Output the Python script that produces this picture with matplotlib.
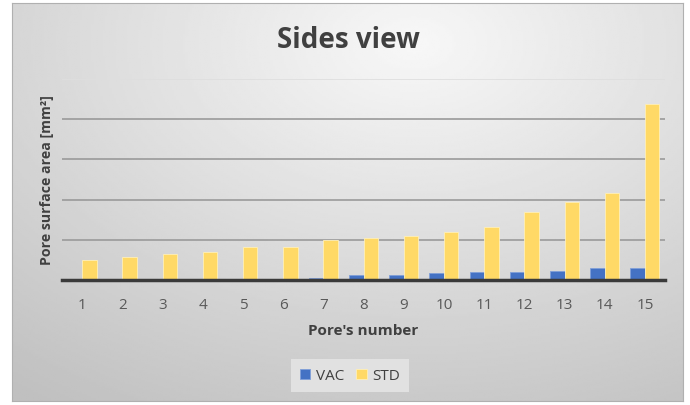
import numpy as np
import matplotlib
matplotlib.use("Agg")
import matplotlib.pyplot as plt

pores = [str(i) for i in range(1, 16)]
vac = [0.01, 0.01, 0.01, 0.01, 0.01, 0.03, 0.04, 0.12, 0.12, 0.17, 0.19, 0.21, 0.23, 0.29, 0.31]
std = [0.49, 0.57, 0.64, 0.69, 0.82, 0.82, 0.99, 1.04, 1.09, 1.19, 1.31, 1.68, 1.95, 2.16, 4.38]
grid_levels = [1, 2, 3, 4, 5]

plt.rcParams["font.family"] = ["Open Sans", "DejaVu Sans"]

fig = plt.figure(figsize=(6.9, 4.06), dpi=100)
fig.patch.set_facecolor("white")

# gradient background of the chart area
bg = fig.add_axes([12 / 690, 4 / 406, 671 / 690, 398 / 406])
yy, xx = np.mgrid[0:1:200j, 0:1:300j]
r = np.sqrt(((xx - 0.6) / 1.0) ** 2 + ((yy - 0.1) / 1.1) ** 2)
shade = 0.97 - 0.22 * np.clip(r, 0, 1)
bg.imshow(shade, cmap="gray", vmin=0, vmax=1, aspect="auto", extent=[0, 1, 1, 0])
bg.set_xticks([])
bg.set_yticks([])
for s in bg.spines.values():
    s.set_color("#b0b0b0")
    s.set_linewidth(0.8)

ax = fig.add_axes([62 / 690, 125 / 406, 603 / 690, 201 / 406])
ax.patch.set_alpha(0)
x = np.arange(len(pores))
w = 0.36
ax.bar(x - w / 2, vac, w, color="#4472C4", edgecolor="#7f9fd8", linewidth=0.6, label="VAC", zorder=3)
ax.bar(x + w / 2, std, w, color="#FFD966", edgecolor="#fff0b8", linewidth=0.6, label="STD", zorder=3)

ax.set_xlim(-0.5, 14.5)
ax.set_ylim(0, 5)
ax.set_yticks(grid_levels)
ax.set_yticklabels([])
ax.tick_params(axis="y", length=0)
for g in grid_levels:
    c = "#dedede" if g == grid_levels[-1] else "#9a9a9a"
    ax.axhline(g, color=c, linewidth=1.2, zorder=0)
ax.set_xticks(x)
ax.set_xticklabels(pores, fontsize=11, color="#595959")
ax.tick_params(axis="x", length=0, pad=12)
for k in ["top", "right", "left"]:
    ax.spines[k].set_visible(False)
ax.spines["bottom"].set_color("#3a3a3a")
ax.spines["bottom"].set_linewidth(2.5)
ax.spines["bottom"].set_zorder(4)

ax.set_xlabel("Pore's number", fontsize=11, fontweight="bold", color="#404040", labelpad=8)
ax.set_ylabel("Pore surface area [mm²]", fontsize=10.2, fontweight="bold", color="#404040", labelpad=0)
ax.yaxis.set_label_coords(-0.013, 0.5)

fig.text(0.505, 0.9, "Sides view", ha="center", va="center", fontsize=20,
         fontweight="bold", color="#404040")

leg = fig.legend(loc="center", bbox_to_anchor=(0.507, 0.072), ncol=2, frameon=True,
                 fontsize=11, handlelength=0.7, handleheight=0.7, columnspacing=0.8,
                 handletextpad=0.35, fancybox=False, borderpad=0.6)
leg.get_frame().set_facecolor("#e4e4e4")
leg.get_frame().set_edgecolor("none")
leg.get_frame().set_alpha(0.9)
for t in leg.get_texts():
    t.set_color("#404040")

fig.savefig("out.png", dpi=100)
